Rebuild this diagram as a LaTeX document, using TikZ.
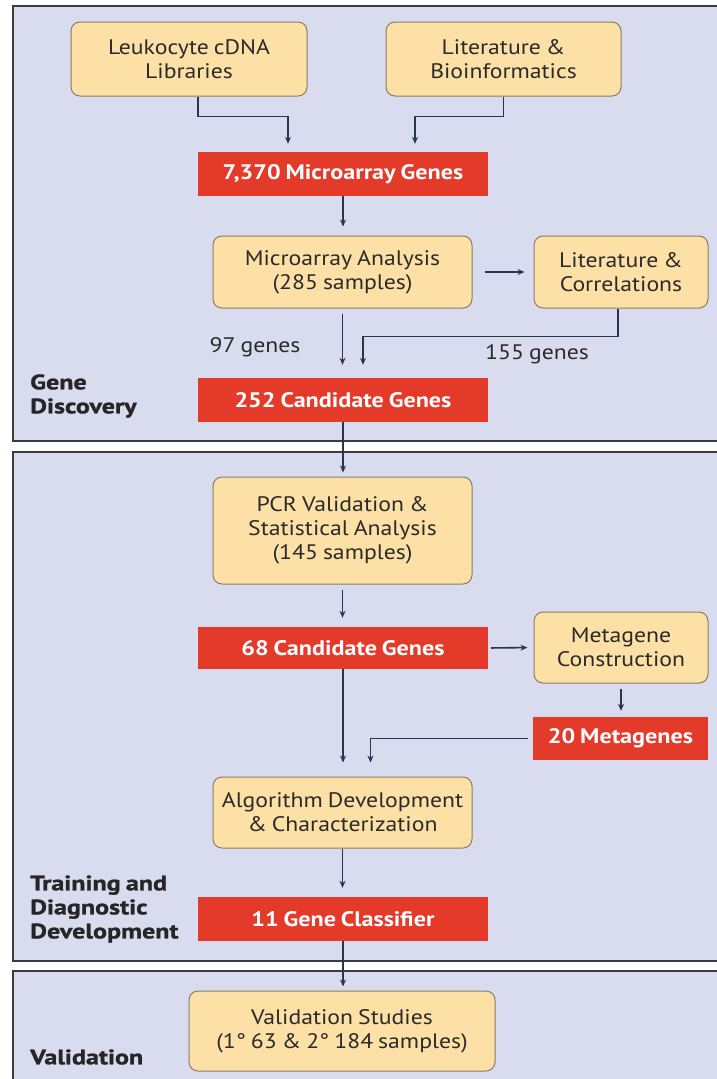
\documentclass[tikz,border=0pt]{standalone}
\usepackage{fontspec}
\setmainfont{PT Sans}[FakeStretch=1.13,WordSpace=0.8]
\newfontfamily\redfont{PT Sans}[FakeStretch=1.15,WordSpace=0.8]
\newfontfamily\sectfont{PT Sans}[FakeStretch=1.24,WordSpace=0.8,BoldFeatures={FakeBold=1.2}]
\usetikzlibrary{arrows.meta,calc}
\definecolor{panelbg}{HTML}{D9DCEE}
\definecolor{panelln}{HTML}{3A3B40}
\definecolor{boxfill}{HTML}{FCE0A6}
\definecolor{boxline}{HTML}{8C7D62}
\definecolor{redbox}{HTML}{E43A2A}
\definecolor{arrowc}{HTML}{2C3450}
\definecolor{txt}{HTML}{2A2A2A}
\begin{document}
\begin{tikzpicture}[x=1pt,y=-1pt,
  panel/.style={fill=panelbg,draw=panelln,line width=1.6pt},
  softbox/.style={draw=boxline,fill=boxfill,rounded corners=9pt,line width=1pt,align=center,text=txt,font=\fontsize{21}{24}\selectfont,inner sep=0pt},
  redb/.style={fill=redbox,draw=none,text=white,font=\redfont\bfseries\fontsize{21}{24}\selectfont,inner sep=0pt,minimum width=290pt,minimum height=44pt},
  arr/.style={draw=arrowc,line width=1.6pt,-{Stealth[length=7pt,width=6pt]}},
  lbl/.style={text=txt,font=\fontsize{21}{24}\selectfont,inner sep=0pt},
  sect/.style={text=black!85,font=\sectfont\bfseries\fontsize{21}{24}\selectfont,align=left,anchor=west,inner sep=0pt}
]
\useasboundingbox (0,0) rectangle (717,1079);
\clip (0,0) rectangle (717,1079);
\fill[white] (0,0) rectangle (717,1079);
% panels
\path[panel] (13,6) rectangle (740,441);
\path[panel] (13,452) rectangle (740,961);
\path[panel] (13,971) rectangle (740,1100);

% section labels
\node[sect] (s1) at (30,396) {Gene\\Discovery};
\node[sect] (s2) at (30,909) {Training and\\Diagnostic\\Development};
\node[sect] (s3) at (30,1057) {Validation};

% nodes
\node[softbox,minimum width=236pt,minimum height=74pt] (lib) at (189,59) {Leukocyte cDNA\\Libraries};
\node[softbox,minimum width=235pt,minimum height=74pt] (litbio) at (503.5,59) {Literature \&\\Bioinformatics};
\node[redb] (mag) at (343,174) {7,370 Microarray Genes};
\node[softbox,minimum width=259pt,minimum height=72pt] (maa) at (342.5,272) {Microarray Analysis\\(285 samples)};
\node[softbox,minimum width=174pt,minimum height=72pt] (litcor) at (621,272) {Literature \&\\Correlations};
\node[redb] (cg252) at (343,400) {252 Candidate Genes};
\node[softbox,minimum width=259pt,minimum height=107pt] (pcr) at (342.5,530.5) {PCR Validation \&\\Statistical Analysis\\(145 samples)};
\node[redb,minimum height=42pt] (cg68) at (343,648) {68 Candidate Genes};
\node[softbox,minimum width=174pt,minimum height=71pt] (meta) at (621,647.5) {Metagene\\Construction};
\node[redb,minimum width=175pt,minimum height=43pt] (mg20) at (620.5,738.5) {20 Metagenes};
\node[softbox,minimum width=259pt,minimum height=71pt] (alg) at (342.5,812.5) {Algorithm Development\\\& Characterization};
\node[redb] (gc11) at (343,919) {11 Gene Classifier};
\node[softbox,minimum width=306pt,minimum height=80pt] (val) at (342,1031) {Validation Studies\\(1° 63 \& 2° 184 samples)};

% labels
\node[lbl] (g97) at (255,347) {97 genes};
\node[lbl] (g155) at (537,354) {155 genes};

% connectors
\draw[arr,shorten >=8pt] (lib.south -| mag.west) -- ++(0,20) -| ([xshift=-55pt]mag.north);
\draw[arr,shorten >=8pt] (litbio.south) -- ++(0,20) -| ([xshift=72pt]mag.north);
\draw[arr,shorten >=9pt] (mag.south) -- (mag.south |- maa.north);
\draw[arr,shorten <=12pt,shorten >=9pt] (maa.east) -- (litcor.west);
\draw[arr,shorten <=5pt,shorten >=13pt] (maa.south) -- (maa.south |- cg252.north);
\draw[arr,shorten >=13pt] ([xshift=-3pt]litcor.south) -- ++(0,28) -| ([xshift=20pt]cg252.north);
\draw[arr,shorten >=4pt] (cg252.south) -- (cg252.south |- pcr.north);
\draw[arr,shorten <=5pt,shorten >=9pt] (pcr.south) -- (pcr.south |- cg68.north);
\draw[arr,shorten <=3pt,shorten >=6pt] (cg68.east) -- (meta.west);
\draw[arr,shorten <=5pt,shorten >=6pt] (meta.south) -- (meta.south |- mg20.north);
\draw[arr,shorten <=5pt,shorten >=14pt] (mg20.west) -| ([xshift=28pt]alg.north);
\draw[arr,shorten >=14pt] (cg68.south) -- (cg68.south |- alg.north);
\draw[arr,shorten >=9pt] (alg.south) -- (alg.south |- gc11.north);
\draw[arr,shorten >=4pt] (gc11.south) -- (gc11.south |- val.north);
\end{tikzpicture}
\end{document}
